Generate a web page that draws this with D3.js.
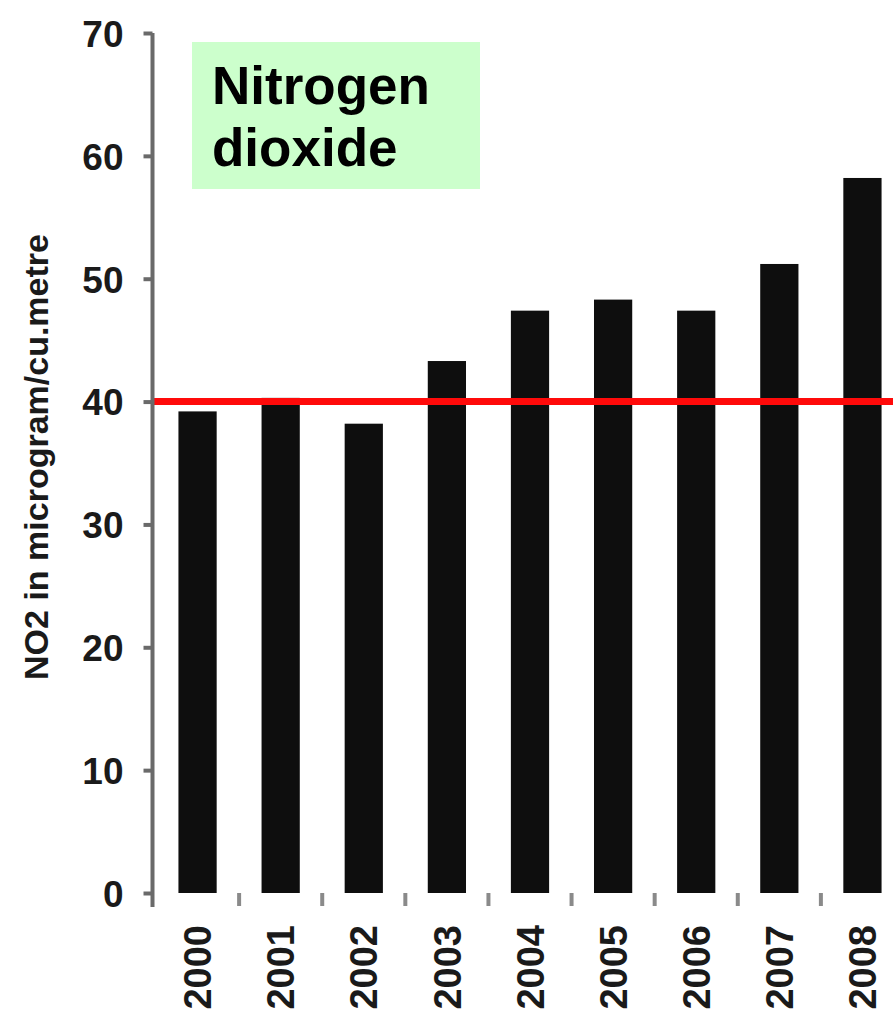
<!DOCTYPE html>
<html>
<head>
<meta charset="utf-8">
<script src="https://cdn.jsdelivr.net/npm/d3@7/dist/d3.min.js"></script>
<style>
  html, body { margin: 0; padding: 0; background: #fff; }
  svg { display: block; font-family: "Liberation Sans", Arial, sans-serif; }
</style>
</head>
<body>
<svg id="chart" width="893" height="1010"></svg>
<script>
// Annual mean NO2 concentration, 2000–2008
const years = ["2000", "2001", "2002", "2003", "2004", "2005", "2006", "2007", "2008"];
const no2 = [39.2, 40.3, 38.2, 43.3, 47.4, 48.3, 47.4, 51.2, 58.2];
const limitValue = 40;
const yTicks = [0, 10, 20, 30, 40, 50, 60, 70];
const titleLines = ["Nitrogen", "dioxide"];
const yLabel = "NO2 in microgram/cu.metre";

const svg = d3.select("#chart");

const x = d3.scaleBand()
  .domain(years)
  .range([156, 904])
  .paddingInner(0.54)
  .paddingOuter(0.27);

const y = d3.scaleLinear()
  .domain([0, 70])
  .range([893, 33]);

// Bars
svg.append("g")
  .selectAll("rect")
  .data(years)
  .join("rect")
  .attr("x", d => x(d))
  .attr("width", x.bandwidth())
  .attr("y", (d, i) => y(no2[i]))
  .attr("height", (d, i) => y(0) - y(no2[i]))
  .attr("fill", "#0e0e0e");

// Limit line
svg.append("line")
  .attr("x1", 152).attr("x2", 893)
  .attr("y1", y(limitValue)).attr("y2", y(limitValue))
  .attr("stroke", "#ff0a0a")
  .attr("stroke-width", 7);

// Y axis
const yAxis = d3.axisLeft(y)
  .tickValues(yTicks)
  .tickSize(9)
  .tickPadding(20)
  .tickFormat(d3.format("d"));

const gy = svg.append("g")
  .attr("transform", "translate(152.5,0)")
  .call(yAxis);
gy.select(".domain").remove();
gy.selectAll(".tick line").attr("stroke", "#6a6a6a").attr("stroke-width", 4);
gy.selectAll(".tick text")
  .attr("font-size", 37)
  .attr("font-weight", "bold")
  .attr("fill", "#1a1a1a")
  .attr("dy", "0.36em");
gy.append("line")
  .attr("x1", 0).attr("x2", 0)
  .attr("y1", y(70)).attr("y2", 907)
  .attr("stroke", "#6a6a6a")
  .attr("stroke-width", 4);

// X axis: small separators between categories plus rotated year labels
const gx = svg.append("g");
const step = x.step();
gx.selectAll("line")
  .data(years.slice(1))
  .join("line")
  .attr("x1", d => x(d) - (step - x.bandwidth()) / 2)
  .attr("x2", d => x(d) - (step - x.bandwidth()) / 2)
  .attr("y1", 893).attr("y2", 906)
  .attr("stroke", "#8a8a8a")
  .attr("stroke-width", 4);

gx.selectAll("text")
  .data(years)
  .join("text")
  .attr("transform", d => `translate(${x(d) + x.bandwidth() / 2},925) rotate(-90)`)
  .attr("text-anchor", "end")
  .attr("dy", "0.36em")
  .attr("font-size", 38)
  .attr("font-weight", "bold")
  .attr("fill", "#1a1a1a")
  .text(d => d);

// Y axis title
svg.append("text")
  .attr("transform", "translate(36,457) rotate(-90)")
  .attr("text-anchor", "middle")
  .attr("dy", "0.36em")
  .attr("font-size", 34)
  .attr("font-weight", "bold")
  .attr("fill", "#1a1a1a")
  .text(yLabel);

// Title box
const tb = svg.append("g");
tb.append("rect")
  .attr("x", 192).attr("y", 42)
  .attr("width", 288).attr("height", 147)
  .attr("fill", "#ccffcc");
tb.selectAll("text")
  .data(titleLines)
  .join("text")
  .attr("x", 212)
  .attr("y", (d, i) => 104 + i * 62)
  .attr("font-size", 53)
  .attr("font-weight", "bold")
  .attr("fill", "#000")
  .text(d => d);
</script>
</body>
</html>
